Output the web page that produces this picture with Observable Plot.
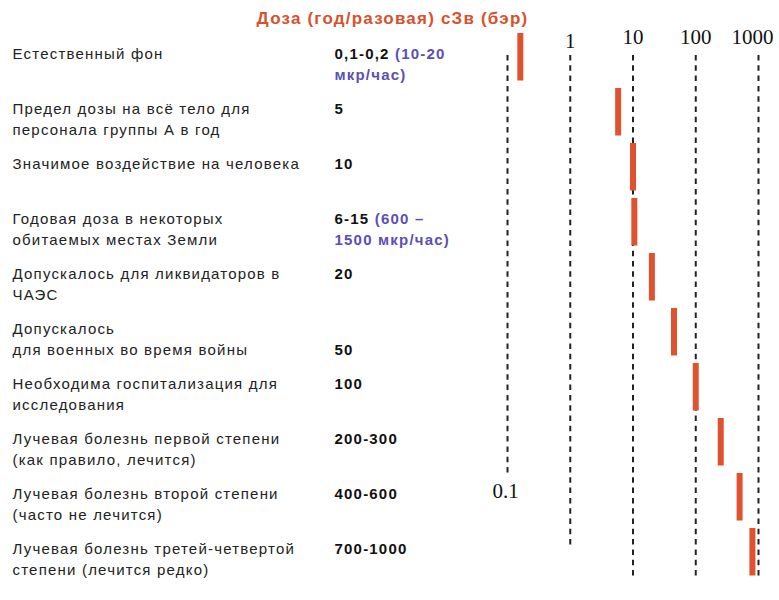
<!DOCTYPE html>
<html>
<head>
<meta charset="utf-8">
<script src="https://cdn.jsdelivr.net/npm/d3@7"></script>
<script src="https://cdn.jsdelivr.net/npm/@observablehq/plot@0.6"></script>
<style>
  html, body { margin: 0; padding: 0; background: #fff; }
  g[font-family^="Liberation Sans"] { letter-spacing: 1.2px; }
</style>
</head>
<body>
<div id="chart"></div>
<script>
// ---- data ----
const title = "Доза (год/разовая) сЗв (бэр)";
const labels = [
  "Естественный фон",
  "Предел дозы на всё тело для\nперсонала группы А в год",
  "Значимое воздействие на человека",
  "Годовая доза в некоторых\nобитаемых местах Земли",
  "Допускалось для ликвидаторов в\nЧАЭС",
  "Допускалось\nдля военных во время войны",
  "Необходима госпитализация для\nисследования",
  "Лучевая болезнь первой степени\n(как правило, лечится)",
  "Лучевая болезнь второй степени\n(часто не лечится)",
  "Лучевая болезнь третей-четвертой\nстепени (лечится редко)"
];
const doseText = ["0,1-0,2", "5", "10", "6-15", "20", "\n50", "100", "200-300", "400-600", "700-1000"];
const doseNotes = ["(10-20\nмкр/час)", "", "", "(600 –\n1500 мкр/час)", "", "", "", "", "", ""];
// bar positions
const barValues = [0.16, 5.8, 10, 10.5, 20, 45, 100, 250, 500, 800];
const ticks = [0.1, 1, 10, 100, 1000];
const tickLabels = ["0.1", "1", "10", "100", "1000"];

// ---- tables ----
const rows = labels.map((label, i) => ({
  i,
  label,
  dose: doseText[i] + (doseNotes[i] ? " " + doseNotes[i] : ""),
  value: barValues[i]
}));
const tickRows = ticks.map((v, k) => ({v, label: tickLabels[k]}));

const sans = "Liberation Sans, Arial, sans-serif";
const serif = "Liberation Serif, Times New Roman, serif";
const dash = {stroke: "#222", strokeWidth: 2, strokeDasharray: "5.5,4.8", insetTop: 27};
const noteColor = "#5b4fb5";

const chart = Plot.plot({
  width: 779,
  height: 600,
  marginLeft: 507,
  marginRight: 21,
  marginTop: 28,
  marginBottom: 17,
  style: {background: "#fff", overflow: "visible"},
  x: {type: "log", domain: [0.1, 1000], axis: null},
  y: {type: "band", domain: d3.range(labels.length), padding: 0, axis: null},
  marks: [
    Plot.ruleX(ticks.filter(t => t === 0.1), {...dash, insetBottom: 110}),
    Plot.ruleX(ticks.filter(t => t === 1), {...dash, insetBottom: 36}),
    Plot.ruleX(ticks.filter(t => t >= 10), {...dash, insetBottom: 4}),
    Plot.ruleX(rows, {x: "value", y1: "i", y2: "i", stroke: "#e0522f", strokeWidth: 6, insetTop: 2, insetBottom: 5.5}),
    // tick labels
    Plot.text(tickRows.filter(d => d.v === 1), {x: "v", text: "label", frameAnchor: "top", lineAnchor: "bottom", dy: 19, fontSize: 21, fontFamily: serif, fill: "#111"}),
    Plot.text(tickRows.filter(d => d.v === 10 || d.v === 100), {x: "v", text: "label", frameAnchor: "top", lineAnchor: "bottom", dy: 15, fontSize: 21, fontFamily: serif, fill: "#111"}),
    Plot.text(tickRows.filter(d => d.v === 1000), {x: "v", text: "label", frameAnchor: "top", lineAnchor: "bottom", dy: 15, dx: -6, fontSize: 21, fontFamily: serif, fill: "#111"}),
    Plot.text(tickRows.filter(d => d.v === 0.1), {x: "v", text: "label", frameAnchor: "top", lineAnchor: "bottom", dy: 469, dx: -2, fontSize: 21, fontFamily: serif, fill: "#111"}),
    // row labels
    Plot.text(rows, {y: "i", text: "label", frameAnchor: "left", dx: -495, textAnchor: "start", lineAnchor: "top", dy: -15, lineHeight: 1.4, fontSize: 15, fontFamily: sans, fill: "#222"}),
    Plot.text(rows, {y: "i", text: "dose", frameAnchor: "left", dx: -173, textAnchor: "start", lineAnchor: "top", dy: -15, lineHeight: 1.4, fontSize: 15, fontWeight: "bold", fontFamily: sans, fill: "#111"}),
    // title
    Plot.text([title], {text: d => d, frameAnchor: "top-left", dx: -115, dy: -10, textAnchor: "middle", lineAnchor: "middle", fontSize: 17, fontWeight: "bold", fontFamily: sans, fill: "#d9512c"})
  ]
});

// colour the parenthesised notes of the dose column
const svgns = "http://www.w3.org/2000/svg";
chart.querySelectorAll("text").forEach(t => {
  if (!t.textContent.includes("мкр")) return;
  const spans = t.querySelectorAll(":scope > tspan");
  const lines = spans.length ? [...spans] : [t];
  let inNote = false;
  for (const line of lines) {
    const s = line.textContent;
    if (inNote) { line.setAttribute("fill", noteColor); continue; }
    const k = s.indexOf("(");
    if (k >= 0) {
      line.textContent = s.slice(0, k);
      const sp = document.createElementNS(svgns, "tspan");
      sp.setAttribute("fill", noteColor);
      sp.textContent = s.slice(k);
      line.appendChild(sp);
      inNote = true;
    }
  }
});

document.getElementById("chart").appendChild(chart);
</script>
</body>
</html>
